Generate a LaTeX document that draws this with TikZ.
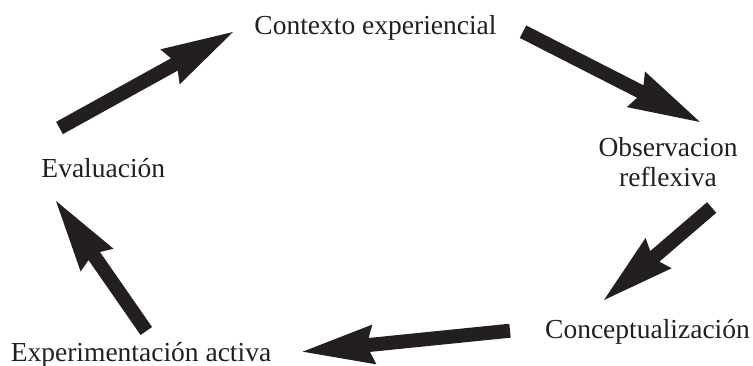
\documentclass[tikz,border=0pt]{standalone}
\usepackage{fontspec}
\setmainfont{Liberation Serif}
\usetikzlibrary{calc}
\definecolor{ink}{HTML}{231F20}
\tikzset{
  lbl/.style={anchor=base, inner sep=0pt, text=ink, font=\fontsize{27.5}{30}\selectfont},
  fatarrowstyle/.style={fill=ink, draw=none}
}
\newcommand\fatarrow[2]{%
  \fill[fatarrowstyle]
    ($(#1)!7pt!-90:(#2)$) --
    ($($(#2)!67pt!(#1)$)!7pt!-90:(#2)$) --
    ($($(#2)!72pt!(#1)$)!20pt!-90:(#2)$) --
    (#2) --
    ($($(#2)!72pt!(#1)$)!20pt!90:(#2)$) --
    ($($(#2)!67pt!(#1)$)!7pt!90:(#2)$) --
    ($(#1)!7pt!90:(#2)$) -- cycle;}
\begin{document}
\begin{tikzpicture}[x=1pt,y=-1pt]
\useasboundingbox (0,0) rectangle (753,366);
\node[lbl] (ctx) at (375.5,34.5) {Contexto experiencial};
\node[lbl] (obs1) at (668,156.5) {Observacion};
\node[lbl] (obs2) at (668,186.5) {reflexiva};
\node[lbl] (con) at (647.5,338) {Conceptualización};
\node[lbl] (exp) at (141,361.5) {Experimentación activa};
\node[lbl] (eva) at (103.3,177.3) {Evaluación};
\coordinate (a1s) at (59.5,128);   \coordinate (a1e) at (233,32);
\coordinate (a2s) at (523,31.7);   \coordinate (a2e) at (700,122);
\coordinate (a3s) at (711.7,207.5); \coordinate (a3e) at (604,300);
\coordinate (a4s) at (510,330.7);  \coordinate (a4e) at (302.7,351.7);
\coordinate (a5s) at (146.3,331);  \coordinate (a5e) at (56,201);
\fatarrow{a1s}{a1e}
\fatarrow{a2s}{a2e}
\fatarrow{a3s}{a3e}
\fatarrow{a4s}{a4e}
\fatarrow{a5s}{a5e}
\end{tikzpicture}
\end{document}
